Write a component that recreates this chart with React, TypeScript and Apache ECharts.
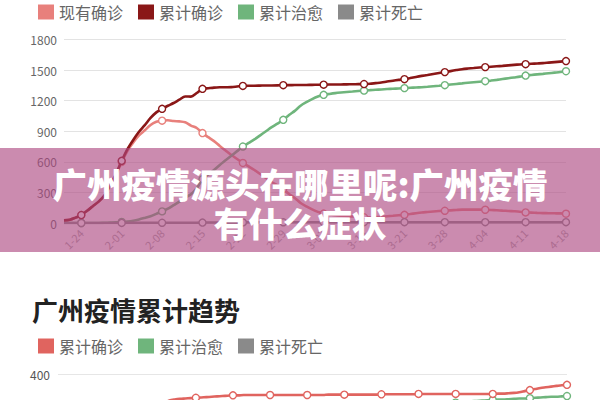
import React, { useEffect, useRef } from "react";
import * as echarts from "echarts";

function days(month: number, from: number, to: number): string[] {
  const out: string[] = [];
  for (let d = from; d <= to; d++) out.push(`${month}-${String(d).padStart(2, "0")}`);
  return out;
}

// ---- top chart (cumulative province trend) ----
const topDates: string[] = [
  ...days(1, 21, 24), ...days(1, 26, 31), ...days(2, 1, 29), ...days(3, 1, 31), ...days(4, 1, 18),
];
const topYTicks = [0, 300, 600, 900, 1200, 1500, 1800];
const topLegend = ["现有确诊", "累计确诊", "累计治愈", "累计死亡"];

const currentConfirmed = [
  26, 32, 53, 78, 120, 165, 210, 268, 366, 474,
  599, 709, 791, 859, 909, 962, 993, 1004, 1008, 1000,
  997, 988, 955, 932, 882, 842, 803, 756, 711, 667,
  628, 589, 555, 520, 481, 442, 402, 368, 333, 285,
  246, 196, 162, 133, 109, 93, 84, 76, 71, 67,
  63, 59, 56, 55, 57, 60, 66, 71, 76, 80,
  88, 96, 103, 108, 113, 117, 120, 124, 128, 131,
  131, 131, 131, 130, 128, 125, 121, 118, 115, 111,
  104, 102, 99, 97, 96, 95, 94, 91,
];
const totalConfirmed = [
  26, 32, 53, 78, 120, 165, 210, 270, 370, 480,
  610, 725, 815, 895, 960, 1030, 1085, 1120, 1150, 1177,
  1210, 1241, 1240, 1275, 1316, 1322, 1328, 1331, 1332, 1333,
  1339, 1345, 1347, 1347, 1348, 1349, 1349, 1350, 1352, 1352,
  1353, 1353, 1354, 1355, 1356, 1357, 1358, 1358, 1359, 1360,
  1361, 1362, 1363, 1366, 1372, 1378, 1388, 1396, 1404, 1411,
  1422, 1433, 1443, 1452, 1462, 1471, 1480, 1490, 1500, 1509,
  1515, 1520, 1525, 1529, 1533, 1537, 1541, 1546, 1551, 1555,
  1558, 1562, 1565, 1568, 1573, 1578, 1583, 1588,
];
const totalHealed = [
  0, 0, 0, 0, 0, 0, 0, 2, 4, 6,
  10, 15, 23, 35, 50, 66, 90, 114, 140, 175,
  210, 250, 282, 340, 430, 475, 520, 570, 615, 660,
  705, 750, 785, 820, 860, 900, 940, 975, 1012, 1060,
  1100, 1150, 1185, 1215, 1240, 1257, 1266, 1274, 1280, 1285,
  1290, 1295, 1299, 1303, 1307, 1310, 1314, 1317, 1320, 1323,
  1326, 1329, 1332, 1336, 1341, 1346, 1352, 1358, 1364, 1370,
  1376, 1381, 1386, 1391, 1397, 1404, 1412, 1420, 1428, 1436,
  1446, 1452, 1458, 1463, 1469, 1475, 1481, 1489,
];
const totalDeaths = [
  0, 0, 0, 0, 0, 0, 0, 0, 0, 0,
  1, 1, 1, 1, 1, 2, 2, 2, 2, 2,
  3, 3, 3, 3, 4, 5, 5, 5, 6, 6,
  6, 6, 7, 7, 7, 7, 7, 7, 7, 7,
  7, 7, 7, 7, 7, 7, 8, 8, 8, 8,
  8, 8, 8, 8, 8, 8, 8, 8, 8, 8,
  8, 8, 8, 8, 8, 8, 8, 8, 8, 8,
  8, 8, 8, 8, 8, 8, 8, 8, 8, 8,
  8, 8, 8, 8, 8, 8, 8, 8,
];

// ---- bottom chart (Guangzhou cumulative trend) ----
const bottomTitle = "广州疫情累计趋势";
const bottomDates: string[] = [...days(1, 13, 31), ...days(2, 1, 29), ...days(3, 1, 31), ...days(4, 1, 18)];
const bottomYTicks = [0, 100, 200, 300, 400];
const bottomLegend = ["累计确诊", "累计治愈", "累计死亡"];
const gzConfirmed = [
  0, 0, 0, 0, 0, 0, 0,
  5, 10, 20, 35, 50, 70, 90, 115, 140, 170, 200, 240, 290,
  318, 324, 327, 329, 330, 331, 332, 333, 334, 335, 336, 337, 338, 339,
  339, 340, 340, 340, 340, 340, 340, 340, 340, 340,
  340, 340, 340, 340, 340, 340, 340, 341, 341, 341,
  341, 341, 341, 341, 341, 341, 341,
  342, 342, 342, 342, 342, 342, 342, 343, 343, 343, 343,
  343, 343, 343, 343, 343, 343, 343, 343, 343, 343, 343,
  344, 344, 345, 346, 348, 351, 354, 357, 360, 362, 364, 366, 368, 369,
];
const gzHealed = [
  0, 0, 0, 0, 0, 0, 0, 0, 0, 0, 0, 0, 0, 0, 0, 0, 0, 0, 0, 0,
  1, 2, 4, 6, 8, 10, 13, 17, 22, 27,
  33, 40, 47, 55, 63, 72, 80, 88, 95, 103,
  110, 118, 126, 135, 145, 155, 165, 175, 185, 195,
  204, 213, 222, 230, 238, 245, 252, 258, 264, 270,
  275, 280, 285, 289, 293, 296, 299, 302, 305, 307,
  309, 311, 313, 315, 317, 318, 320, 321, 322, 323,
  324, 325, 326, 327, 327, 328, 329, 330, 330, 331,
  332, 333, 334, 335, 335, 336, 337,
];
const gzDeaths = [
  0, 0, 0, 0, 0, 0, 0, 0, 0, 0, 0, 0, 0, 0, 0, 0, 0, 0, 0, 0,
  0, 0, 0, 0, 0, 0, 0, 0, 0, 0, 0, 0, 0, 0, 0, 0, 0, 0, 0, 0,
  1, 1, 1, 1, 1, 1, 1, 1, 1, 1, 1, 1, 1, 1, 1, 1, 1, 1, 1, 1,
  1, 1, 1, 1, 1, 1, 1, 1, 1, 1, 1, 1, 1, 1, 1, 1, 1, 1, 1, 1,
  1, 1, 1, 1, 1, 1, 1, 1, 1, 1, 1, 1, 1, 1, 1, 1, 1,
];

const bannerLines = ["广州疫情源头在哪里呢:广州疫情", "有什么症状"];

const FONT = "'Noto Sans CJK SC', 'Noto Sans', sans-serif";

const C_CUR = "#e8807c";
const C_TOTAL = "#8a1717";
const C_HEAL = "#6fb57c";
const C_DEATH = "#8a8a8a";
const C_GZ_TOTAL = "#e0645f";

function lineSeries(
  name: string,
  data: number[],
  color: string,
  axis: number,
  markerMod: number,
  z: number
) {
  return {
    type: "line",
    name,
    data,
    xAxisIndex: axis,
    yAxisIndex: axis,
    smooth: 0.3,
    symbol: "circle",
    showSymbol: true,
    showAllSymbol: true,
    symbolSize: (_v: any, p: any) => (p.dataIndex % 7 === markerMod ? 7 : 0),
    lineStyle: { color, width: 2.6 },
    itemStyle: { color: "#fff", borderColor: color, borderWidth: 1.4 },
    emphasis: { disabled: true },
    z,
  };
}

export default function App() {
  const ref = useRef<HTMLDivElement>(null);
  useEffect(() => {
    if (!ref.current) return;
    const chart = echarts.init(ref.current, undefined, { renderer: "svg" });
    const legendText = { fontSize: 16, color: "#666", fontFamily: FONT };
    const topMax = bottomYTicks[bottomYTicks.length - 1];
    chart.setOption({
      animation: false,
      backgroundColor: "#fff",
      textStyle: { fontFamily: FONT },
      legend: [
        {
          left: 33,
          top: -1,
          icon: "rect",
          itemWidth: 16,
          itemHeight: 15,
          itemGap: 15,
          textStyle: legendText,
          selectedMode: false,
          data: [
            { name: topLegend[0], itemStyle: { color: C_CUR, borderWidth: 0 } },
            { name: topLegend[1], itemStyle: { color: C_TOTAL, borderWidth: 0 } },
            { name: topLegend[2], itemStyle: { color: C_HEAL, borderWidth: 0 } },
            { name: topLegend[3], itemStyle: { color: C_DEATH, borderWidth: 0 } },
          ],
        },
        {
          left: 33,
          top: 333,
          icon: "rect",
          itemWidth: 16,
          itemHeight: 15,
          itemGap: 15,
          textStyle: legendText,
          selectedMode: false,
          data: [
            { name: bottomLegend[0], itemStyle: { color: C_GZ_TOTAL, borderWidth: 0 } },
            { name: bottomLegend[1], itemStyle: { color: C_HEAL, borderWidth: 0 } },
            { name: bottomLegend[2], itemStyle: { color: C_DEATH, borderWidth: 0 } },
          ],
        },
      ],
      grid: [
        { left: 64, right: 34, top: 39.5, height: 183.5 },
        { left: 58, right: 33, top: 374, height: 140 },
      ],
      xAxis: [
        {
          gridIndex: 0,
          type: "category",
          data: topDates,
          boundaryGap: false,
          axisLine: { show: false },
          axisTick: { show: false },
          axisLabel: {
            interval: (i: number) => i % 7 === 3,
            rotate: 45,
            color: "#aaa",
            fontSize: 11,
            margin: 8,
          },
        },
        {
          gridIndex: 1,
          type: "category",
          data: bottomDates,
          boundaryGap: false,
          axisLine: { show: false },
          axisTick: { show: false },
          axisLabel: { show: false },
        },
      ],
      yAxis: [
        {
          gridIndex: 0,
          type: "value",
          min: topYTicks[0],
          max: topYTicks[topYTicks.length - 1],
          interval: topYTicks[1] - topYTicks[0],
          axisLabel: { color: "#666", fontSize: 12, margin: 7, formatter: (v: number) => String(v) },
          splitLine: { lineStyle: { color: "#e3e3e3", width: 1 } },
        },
        {
          gridIndex: 1,
          type: "value",
          min: bottomYTicks[0],
          max: topMax,
          interval: bottomYTicks[1] - bottomYTicks[0],
          // only the top tick lies inside the visible window; the rest are below the crop
          axisLabel: {
            color: "#555",
            fontSize: 12,
            margin: 8,
            formatter: (v: number) => (v === topMax ? String(v) : ""),
          },
          splitLine: { lineStyle: { color: "#e6e6e6", width: 1 } },
        },
      ],
      series: [
        lineSeries(topLegend[0], currentConfirmed, C_CUR, 0, 3, 3),
        lineSeries(topLegend[2], totalHealed, C_HEAL, 0, 3, 4),
        lineSeries(topLegend[3], totalDeaths, C_DEATH, 0, 3, 5),
        lineSeries(topLegend[1], totalConfirmed, C_TOTAL, 0, 3, 6),
        lineSeries(bottomLegend[1], gzHealed, C_HEAL, 1, 5, 3),
        lineSeries(bottomLegend[2], gzDeaths, C_DEATH, 1, 5, 4),
        lineSeries(bottomLegend[0], gzConfirmed, C_GZ_TOTAL, 1, 5, 5),
      ],
      graphic: [
        {
          type: "rect",
          z: 100,
          shape: { x: 0, y: 148, width: 600, height: 104 },
          style: { fill: "rgba(172, 72, 128, 0.63)" },
        },
        {
          type: "text",
          z: 101,
          style: {
            text: bannerLines[0],
            x: 300,
            y: 183,
            fill: "#fff",
            font: `900 34.5px ${FONT}`,
            textAlign: "center",
            verticalAlign: "middle",
          },
        },
        {
          type: "text",
          z: 101,
          style: {
            text: bannerLines[1],
            x: 300,
            y: 222,
            fill: "#fff",
            font: `900 34.5px ${FONT}`,
            textAlign: "center",
            verticalAlign: "middle",
          },
        },
        {
          type: "text",
          z: 101,
          style: {
            text: bottomTitle,
            x: 32,
            y: 309,
            fill: "#222",
            font: `bold 26px ${FONT}`,
            textAlign: "left",
            verticalAlign: "middle",
          },
        },
      ],
    });
    return () => chart.dispose();
  }, []);
  return (
    <div style={{ position: "fixed", left: 0, top: 0, width: 600, height: 400, overflow: "hidden", background: "#fff" }}>
      <div ref={ref} style={{ width: 600, height: 560 }} />
    </div>
  );
}
